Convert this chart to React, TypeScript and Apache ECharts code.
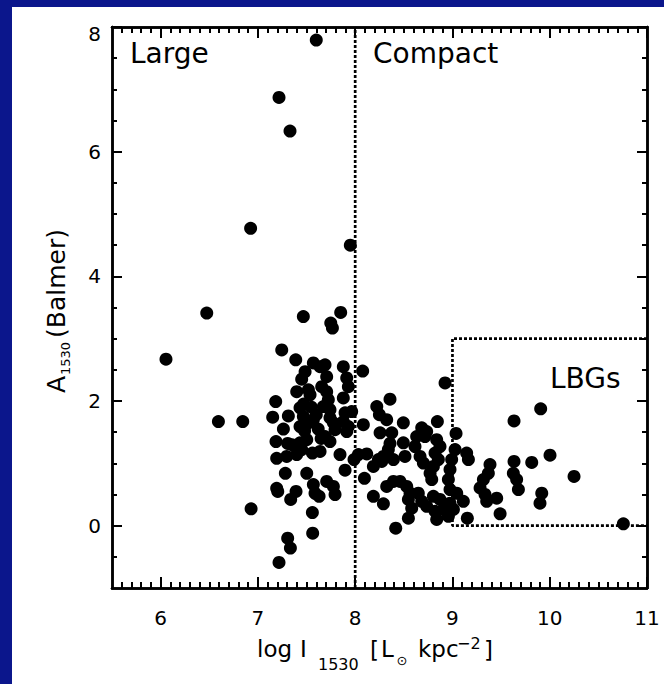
import React, { useEffect, useRef } from 'react';
import * as echarts from 'echarts';

const FONT = 'DejaVu Sans';
const BLUE = '#0b168c';

// Tick values
const xMajorTicks = [6, 7, 8, 9, 10, 11];
const yMajorTicks = [0, 2, 4, 6, 8];

// Region boundaries
const compactBoundary = [[8, -1], [8, 8]];
const lbgBox = [[11, 3], [9, 3], [9, 0], [11, 0]];

// Scatter points: [log I1530, A1530]
const outliers = [
  [7.6, 7.79], [7.217, 6.87], [7.33, 6.33], [6.925, 4.77], [7.95, 4.5], [6.474, 3.41], [7.467, 3.355],
  [7.851, 3.42], [7.749, 3.25], [7.766, 3.17], [6.055, 2.67], [7.245, 2.82], [7.389, 2.66], [6.594, 1.67],
  [6.844, 1.67], [6.93, 0.27], [7.217, -0.59], [7.306, -0.2], [7.334, -0.36], [7.563, -0.12], [7.56, 0.21],
];

const clusterLarge = [
  [7.183, 1.99], [7.152, 1.74], [7.313, 1.76], [7.262, 1.55], [7.186, 1.35], [7.193, 1.08], [7.296, 1.11],
  [7.282, 0.84], [7.193, 0.6], [7.204, 0.55], [7.392, 0.55], [7.337, 0.42], [7.306, 1.32], [7.433, 1.89],
  [7.45, 2.35], [7.399, 2.15], [7.485, 2.47], [7.57, 2.61], [7.519, 2.18], [7.536, 2.1], [7.467, 1.75],
  [7.433, 1.59], [7.519, 1.65], [7.57, 1.7], [7.433, 1.33], [7.399, 1.14], [7.502, 1.38], [7.502, 0.84],
  [7.57, 0.66], [7.587, 0.52], [7.629, 0.47], [7.56, 1.165], [7.639, 1.19], [7.639, 2.55], [7.69, 2.58],
  [7.707, 2.39], [7.656, 2.23], [7.707, 2.15], [7.724, 2.02], [7.673, 1.91], [7.741, 1.86], [7.741, 1.73],
  [7.776, 1.65], [7.793, 1.54], [7.69, 1.43], [7.741, 1.35], [7.707, 0.71], [7.776, 0.63], [7.793, 0.5],
  [7.878, 2.55], [7.913, 2.37], [7.93, 2.23], [7.878, 2.05], [7.896, 1.81], [7.964, 1.83], [7.878, 1.67],
  [7.93, 1.59], [7.913, 1.51], [7.844, 1.14], [7.896, 0.89], [7.988, 1.06], [7.47, 1.95], [7.55, 1.9],
  [7.6, 1.78], [7.62, 1.55], [7.48, 1.52], [7.35, 1.3], [7.65, 1.4], [7.45, 1.22],
];

const clusterCompact = [
  [8.033, 1.14], [8.119, 1.15], [8.084, 1.62], [8.095, 0.76], [8.187, 0.47], [8.29, 0.35], [8.222, 1.91],
  [8.249, 1.78], [8.324, 1.7], [8.256, 1.49], [8.376, 1.49], [8.358, 1.32], [8.239, 1.06], [8.187, 0.95],
  [8.29, 1.11], [8.393, 1.06], [8.324, 0.63], [8.393, 0.71], [8.077, 2.48], [8.358, 2.03], [8.417, -0.04],
  [8.341, 1.22], [8.273, 1.03], [8.845, 1.67], [8.838, 1.38], [8.872, 1.27], [8.821, 1.165], [8.855, 1.06],
  [8.804, 0.95], [8.77, 0.84], [8.787, 0.74], [8.735, 1.51], [8.718, 1.43], [8.632, 1.43], [8.615, 1.27],
  [8.684, 1.57], [8.667, 1.11], [8.701, 1.005], [8.495, 1.65], [8.495, 1.33], [8.512, 1.11], [8.461, 0.71],
  [8.53, 0.63], [8.564, 0.52], [8.547, 0.42], [8.581, 0.28], [8.547, 0.12], [8.649, 0.52], [8.684, 0.39],
  [8.735, 0.31], [8.821, 0.23], [8.838, 0.1], [8.804, 0.47], [8.872, 0.42], [8.907, 0.26], [8.958, 0.15],
  [8.975, 0.9], [8.958, 0.74], [8.975, 0.58], [8.975, 0.36], [8.992, 1.06], [8.924, 2.29],
];

const lbgRegion = [
  [9.027, 1.22], [9.037, 1.48], [9.044, 0.52], [9.112, 0.39], [9.01, 0.26], [9.146, 1.165], [9.164, 1.06],
  [9.153, 0.12], [9.386, 0.98], [9.369, 0.84], [9.318, 0.74], [9.284, 0.605], [9.335, 0.5], [9.352, 0.39],
  [9.455, 0.44], [9.49, 0.19], [9.633, 1.68], [9.633, 1.03], [9.626, 0.84], [9.66, 0.74], [9.678, 0.58],
  [9.815, 1.015], [9.907, 1.875], [9.918, 0.52], [9.9, 0.36], [10.003, 1.13], [10.25, 0.79], [10.757, 0.03],
];

// minor tick positions (axis furniture)
const xMinorTicks: number[] = [];
for (let i = 56; i < 110; i++) if (i % 10 !== 0) xMinorTicks.push(i / 10);
const yMinorTicks: number[] = [];
for (let i = -1; i < 16; i++) if (i % 4 !== 0) yMinorTicks.push(i / 2);

const lineColor = '#000';

function xAxisDef(position: string, ticks: number[], len: number, labels: boolean) {
  return {
    type: 'value', position, min: 5.5, max: 11,
    axisLine: { show: true, onZero: false, lineStyle: { color: lineColor, width: 2.5 } },
    axisTick: { show: true, inside: true, length: len, customValues: ticks, lineStyle: { color: lineColor, width: 2 } },
    axisLabel: labels
      ? { show: true, customValues: xMajorTicks, color: '#000', fontFamily: FONT, fontSize: 20, margin: 20 }
      : { show: false },
    splitLine: { show: false },
  };
}

function yAxisDef(position: string, ticks: number[], len: number, labels: boolean) {
  return {
    type: 'value', position, min: -1, max: 8,
    axisLine: { show: true, onZero: false, lineStyle: { color: lineColor, width: 2.5 } },
    axisTick: { show: true, inside: true, length: len, customValues: ticks, lineStyle: { color: lineColor, width: 2 } },
    axisLabel: labels
      ? {
          show: true, customValues: yMajorTicks, color: '#000', fontFamily: FONT, fontSize: 20, margin: 11,
          formatter: (v: number) => (v === 8 ? '{t|8}' : String(v)),
          rich: { t: { fontFamily: FONT, fontSize: 20, color: '#000', padding: [14, 0, 0, 0] } },
        }
      : { show: false },
    splitLine: { show: false },
  };
}

const dotStyle = { color: '#000', width: 2.7, type: [3, 2] };

function txt(text: string, x: number, y: number, size: number, align = 'left') {
  return {
    type: 'text', x, y, silent: true,
    style: { text, fill: '#000', font: `${size}px "${FONT}"`, textAlign: align, textVerticalAlign: 'middle' },
  };
}

export default function App() {
  const ref = useRef<HTMLDivElement>(null);
  useEffect(() => {
    document.body.style.margin = '0';
    document.body.style.background = '#fff';
    const chart = echarts.init(ref.current!, null, { renderer: 'svg' });
    const points = [...outliers, ...clusterLarge, ...clusterCompact, ...lbgRegion];
    chart.setOption({
      animation: false,
      backgroundColor: '#fff',
      grid: { left: 112, right: 17, top: 27, bottom: 96, containLabel: false },
      xAxis: [
        xAxisDef('bottom', xMajorTicks, 11, true),
        xAxisDef('bottom', xMinorTicks, 6, false),
        xAxisDef('top', xMajorTicks, 11, false),
        xAxisDef('top', xMinorTicks, 6, false),
      ],
      yAxis: [
        yAxisDef('left', yMajorTicks, 10, true),
        yAxisDef('left', yMinorTicks, 5, false),
        yAxisDef('right', yMajorTicks, 10, false),
        yAxisDef('right', yMinorTicks, 5, false),
      ],
      series: [
        { type: 'line', data: compactBoundary, symbol: 'none', lineStyle: dotStyle, silent: true, z: 1 },
        { type: 'line', data: lbgBox, symbol: 'none', lineStyle: dotStyle, silent: true, z: 1 },
        {
          type: 'scatter', data: points, symbol: 'circle', symbolSize: 13,
          itemStyle: { color: '#000', opacity: 1 }, z: 3,
        },
      ],
      graphic: [
        { type: 'rect', shape: { x: 0, y: 0, width: 664, height: 7 }, style: { fill: BLUE }, z: -10, silent: true },
        { type: 'rect', shape: { x: 0, y: 0, width: 12, height: 684 }, style: { fill: BLUE }, z: -10, silent: true },
        txt('Large', 130, 53, 28),
        txt('Compact', 373, 53, 28),
        txt('LBGs', 550, 378, 28),
        // x axis title
        txt('log', 257, 649, 23),
        txt('I', 300, 649, 23),
        txt('1530', 318, 664, 16),
        txt('[', 370, 650, 23),
        txt('L', 381, 649, 23),
        txt('⊙', 402, 660, 13, 'center'),
        txt('kpc', 418, 649, 23),
        txt('−2', 457, 643, 16),
        txt(']', 484, 650, 23),
        // y axis title (rotated)
        {
          type: 'group', x: 65, y: 393, rotation: Math.PI / 2,
          children: [
            txt('A', 0, -9, 25),
            txt('1530', 18, 0, 13),
            txt('(Balmer)', 55, -9, 25),
          ],
        },
      ],
    });
    return () => chart.dispose();
  }, []);
  return <div ref={ref} style={{ width: 664, height: 684, background: '#fff' }} />;
}
